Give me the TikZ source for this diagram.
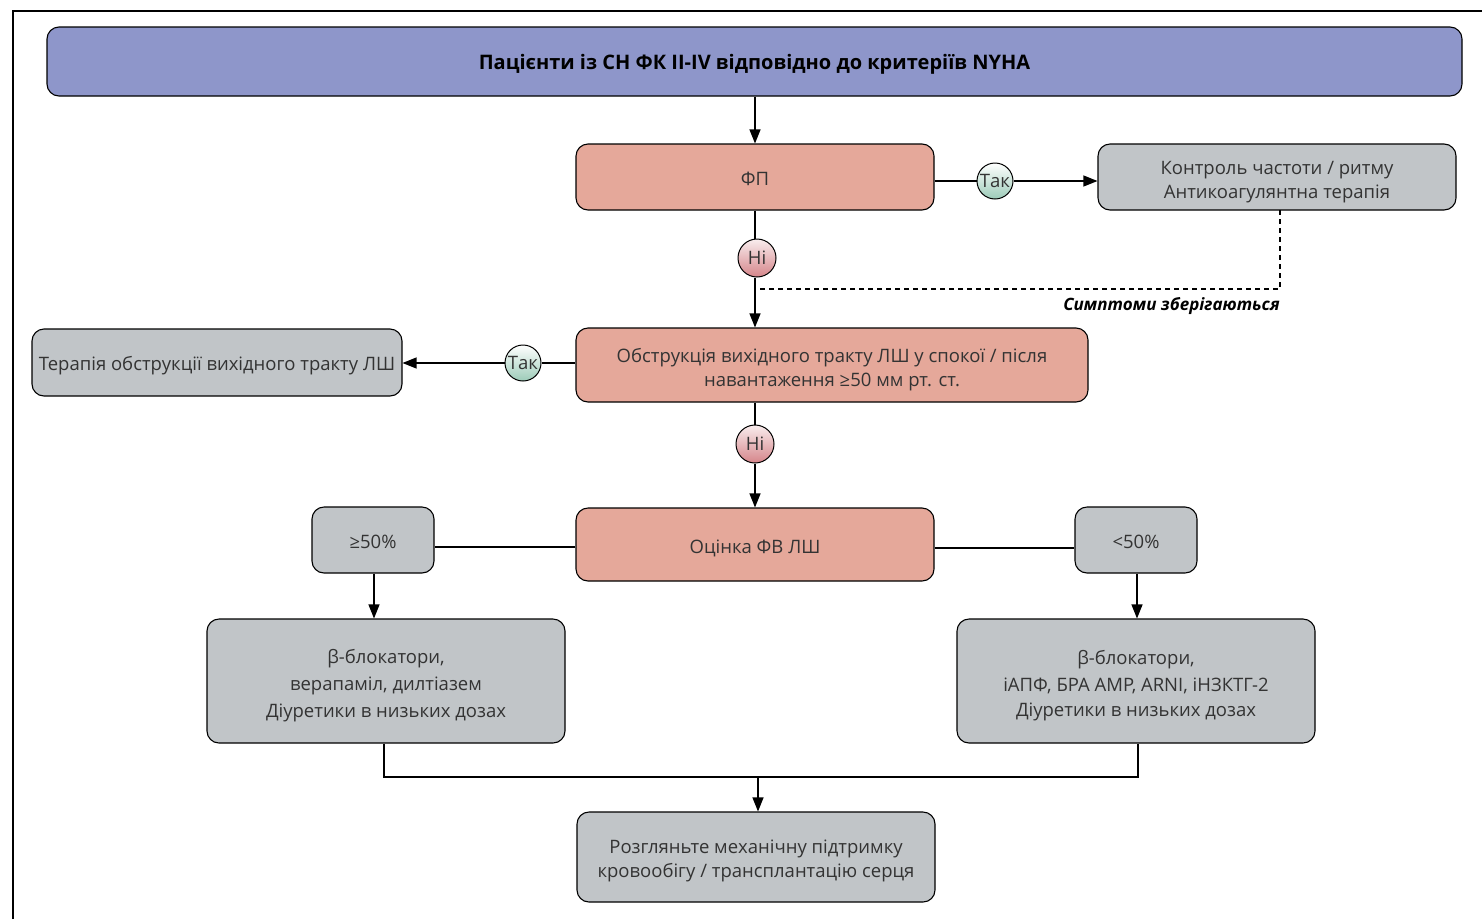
\documentclass[tikz,border=0pt]{standalone}
\usepackage{fontspec}
\setmainfont{Open Sans}
\usetikzlibrary{arrows.meta,shadings}
\definecolor{titlefill}{HTML}{8E96CA}
\definecolor{salmon}{HTML}{E5A89A}
\definecolor{greybox}{HTML}{C1C5C8}
\definecolor{txt}{HTML}{333333}
\definecolor{yesgreen}{HTML}{9CCBB8}
\definecolor{nopink}{HTML}{D5858A}
\newcommand\lowertext[2]{\raisebox{-#1}[\height][\depth]{#2}}
\begin{document}
\begin{tikzpicture}[x=1pt,y=-1pt,
  boxbase/.style={draw=black,line width=1.1pt,rounded corners=12pt,inner sep=0pt,text=txt,align=center,
    font=\fontsize{18.5}{24}\selectfont},
  redbox/.style={boxbase,fill=salmon},
  greybx/.style={boxbase,fill=greybox},
  yesc/.style={circle,draw=black,line width=1pt,minimum size=36pt,inner sep=0pt,top color=white,bottom color=yesgreen,
    font=\fontsize{18.5}{20}\selectfont,text=txt},
  noc/.style={circle,draw=black,line width=1pt,minimum size=38pt,inner sep=0pt,top color=white!85!nopink,bottom color=nopink,
    font=\fontsize{18.5}{20}\selectfont,text=txt},
  conn/.style={line width=1.2pt,draw=black},
  arr/.style={conn,-{Triangle[length=14pt,width=11pt]}}]
\useasboundingbox (0,0) rectangle (1482,919);
\fill[white] (0,0) rectangle (1482,919);
% frame
\draw[line width=1.2pt] (13,919) -- (13,11) -- (1482,11);
% title
\node[boxbase,fill=titlefill,text=black,minimum width=1415pt,minimum height=69pt,
  font=\fontsize{20}{20}\selectfont\bfseries] (title) at (754.5,61.5) {\lowertext{3pt}{Пацієнти із СН ФК II-IV відповідно до критеріїв NYHA}};
\node[redbox,minimum width=358pt,minimum height=66pt] (fp) at (755,177) {\lowertext{2pt}{ФП}};
\node[greybx,minimum width=358pt,minimum height=66pt] (ctrl) at (1277,177) {\lowertext{5pt}{\shortstack{Контроль частоти / ритму\\[3pt]Антикоагулянтна терапія}}};
\node[yesc] (yes1) at (995,181) {Так};
\node[noc] (no1) at (757,258) {Ні};
\node[redbox,minimum width=512pt,minimum height=74pt] (obs) at (832,365) {\lowertext{5pt}{\shortstack{Обструкція вихідного тракту ЛШ у спокої / після\\[3pt]навантаження ≥50 мм рт. ст.}}};
\node[greybx,minimum width=370pt,minimum height=67pt] (ther) at (217,362.5) {\lowertext{3pt}{Терапія обструкції вихідного тракту ЛШ}};
\node[yesc] (yes2) at (523,363) {Так};
\node[noc] (no2) at (755,444) {Ні};
\node[redbox,minimum width=358pt,minimum height=73pt] (lvef) at (755,544.5) {\lowertext{4pt}{Оцінка ФВ ЛШ}};
\node[greybx,minimum width=122pt,minimum height=66pt] (ge) at (373,540) {\lowertext{2pt}{≥50\%}};
\node[greybx,minimum width=122pt,minimum height=66pt] (lt) at (1136,540) {\lowertext{2pt}{<50\%}};
\node[greybx,minimum width=358pt,minimum height=124pt] (left) at (386,681) {\lowertext{4.5pt}{\shortstack{β-блокатори,\\[6pt]верапаміл, дилтіазем\\[6pt]Діуретики в низьких дозах}}};
\node[greybx,minimum width=358pt,minimum height=124pt] (right) at (1136,681) {\lowertext{4.5pt}{\shortstack{β-блокатори,\\[6pt]іАПФ, БРА АМР, ARNI, іНЗКТГ-2\\[6pt]Діуретики в низьких дозах}}};
\node[greybx,minimum width=358pt,minimum height=90pt] (mcs) at (756,857) {\lowertext{4pt}{\shortstack{Розгляньте механічну підтримку\\[3pt]кровообігу / трансплантацію серця}}};
% connectors
\draw[arr] (title.south -| fp.north) -- (fp.north);
\draw[conn] (fp.east |- yes1) -- (yes1.west);
\draw[arr] (yes1.east) -- (ctrl.west |- yes1);
\draw[conn] (fp.south) -- (fp.south |- no1.north);
\draw[arr] (fp.south |- no1.south) -- (fp.south |- obs.north);
\coordinate (dtop) at (1280,210);
\coordinate (dcorner) at (1280,289);
\coordinate (dend) at (760,289);
\draw[line width=1.1pt,dash pattern=on 5pt off 4pt] (dtop) -- (dcorner) -- (dend);
\node[anchor=north east,inner sep=0pt,font=\fontsize{17}{20}\selectfont\itshape\bfseries,text=black] (symp) at (1280,297) {Симптоми зберігаються};
\draw[conn] (obs.west |- yes2) -- (yes2.east);
\draw[arr] (yes2.west) -- (ther.east |- yes2);
\draw[conn] (obs.south -| no2) -- (no2.north);
\draw[arr] (no2.south) -- (no2.south |- lvef.north);
\draw[conn] (lvef.west |- 0,547) -- (ge.east |- 0,547);
\draw[conn] (lvef.east |- 0,548) -- (lt.west |- 0,548);
\draw[arr] (ge.south -| 374,0) -- (left.north -| 374,0);
\draw[arr] (lt.south -| 1137,0) -- (right.north -| 1137,0);
\coordinate (jl) at (384,777);
\coordinate (jr) at (1138,777);
\coordinate (jm) at (758,777);
\draw[conn] (left.south -| jl) -- (jl) -- (jr) -- (right.south -| jr);
\draw[arr] (jm) -- (jm |- mcs.north);
\end{tikzpicture}
\end{document}
